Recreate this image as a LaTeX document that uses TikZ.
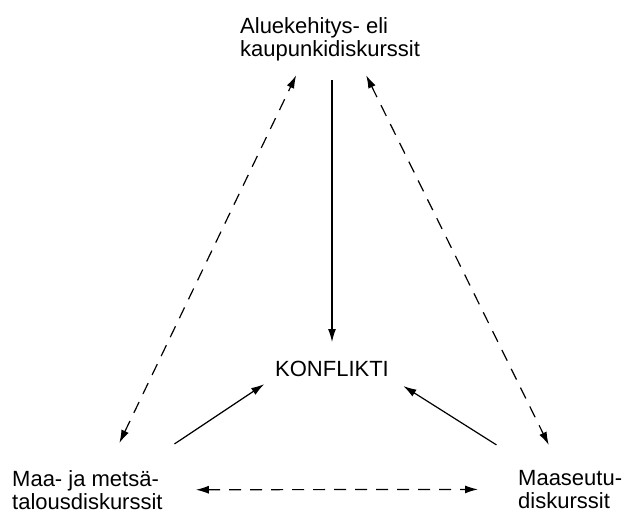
\documentclass[tikz,border=0pt]{standalone}
\usepackage{fontspec}
\setmainfont{Liberation Sans}
\usepackage{tikz}
\usetikzlibrary{arrows.meta}

\begin{document}
\begin{tikzpicture}[x=1pt,y=-1pt,
  txt/.style={inner sep=0pt,align=left,font=\fontsize{22}{23}\selectfont},
  solidarr/.style={line width=1.2pt,-{Latex[length=13pt,width=8pt]}},
  dasharr/.style={line width=1.2pt,dash pattern=on 12pt off 9pt,{Latex[length=13pt,width=8pt]}-{Latex[length=13pt,width=8pt]}}]
\useasboundingbox (0,0) rectangle (626,513);
%%%%
\node[txt,anchor=north west] (kaupunki) at (240,17) {Aluekehitys- eli\\kaupunkidiskurssit};
\node[txt] (konflikti) at (332,369) {KONFLIKTI};
\node[txt,anchor=north west] (metsa) at (12,470) {Maa- ja metsä-\\talousdiskurssit};
\node[txt,anchor=north west] (maaseutu) at (518,470) {Maaseutu-\\diskurssit};
%
\draw[solidarr,shorten <=19pt,shorten >=19pt] (kaupunki.south -| konflikti.north) -- (konflikti.north);
\draw[solidarr,shorten <=47pt,shorten >=13pt] ([xshift=48pt]metsa.north) -- (konflikti.south west);
\draw[solidarr,shorten <=47pt,shorten >=17pt] ([xshift=-34pt]maaseutu.north) -- (konflikti.south east);
%dashed links
\draw[dasharr,shorten <=30pt,shorten >=16pt] ([xshift=19pt]metsa.north) -- ([xshift=-27pt]kaupunki.south);
\draw[dasharr,shorten <=16pt,shorten >=28pt] ([xshift=29pt]kaupunki.south) -- ([xshift=-9pt]maaseutu.north);
\draw[dasharr,shorten <=33pt,shorten >=40pt] (metsa.east) -- (maaseutu.west);
\end{tikzpicture}
\end{document}
